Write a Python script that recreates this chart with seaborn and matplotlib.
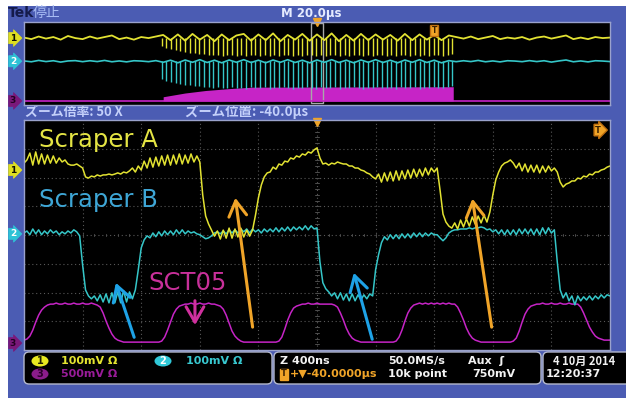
import numpy as np
import pandas as pd
import matplotlib
matplotlib.use("Agg")
import matplotlib.pyplot as plt
from matplotlib.patches import Rectangle, FancyBboxPatch, Ellipse
import seaborn as sns

# ---------------- zoom window (4 us wide), 50 MS/s -> one sample every 20 ns
SAMPLE_NS = 20
ch1_mv = [
    24, 35, 59, 17, 63, 21, 56, 21, 52, 24,
    49, 24, 42, 28, 35, 21, 17, 17, 21, 14,
    7, -24, -28, -21, -24, -17, -21, -17, -17, -14,
    -17, -14, -10, -14, -7, -10, -3, 7, -7, 14,
    0, 31, 7, 42, 10, 45, 14, 49, 17, 52,
    17, 52, 21, 56, 21, 52, 24, 56, 28, 49,
    28, -87, -160, -188, -209, -230, -212, -240, -209, -237,
    -202, -237, -205, -233, -202, -233, -209, -230, -209, -157,
    -97, -52, -24, -10, -7, 10, 3, 21, 17, 31,
    28, 42, 38, 49, 45, 56, 52, 63, 59, 70,
    77, 42, 21, 24, 17, 24, 21, 28, 24, 21,
    21, 14, 14, 7, 7, 0, -3, -10, -14, -24,
    -31, -14, -42, -10, -38, -7, -38, -3, -35, -3,
    -31, 0, -28, 3, -24, 3, -21, 7, -17, 7,
    -7, 7, -70, -153, -181, -195, -202, -184, -205, -174,
    -198, -170, -195, -163, -188, -160, -184, -157, -181, -146,
    -87, -35, -7, 14, 24, 28, 35, 24, 7, 24,
    -3, 21, -7, 17, -7, 17, -10, 14, -7, 14,
    -3, 7, -7, -42, -59, -49, -45, -38, -38, -28,
    -31, -21, -24, -14, -17, -7, -7, 0, 3, 10,
    14,
]
ch2_mv = [
    3, 10, -3, 17, 0, 14, -3, 10, 0, 14,
    3, 10, -3, 7, 0, 10, 3, 14, 7, -7,
    -108, -195, -216, -226, -216, -233, -212, -237, -209, -240,
    -205, -240, -202, -240, -198, -237, -202, -226, -195, -125,
    -49, -21, -7, -14, 3, -10, 7, -7, 10, -3,
    10, -3, 14, 0, 14, 0, 10, 3, 7, 0,
    -3, -10, -17, -14, -7, 3, 7, 0, 10, 0,
    14, 3, 14, 3, 17, 7, 17, 3, 17, 7,
    14, 3, 17, 7, 17, 7, 21, 7, 21, 10,
    24, 10, 24, 14, 24, 14, 28, 14, 28, 17,
    21, -97, -170, -191, -202, -216, -205, -226, -205, -230,
    -209, -233, -209, -233, -212, -230, -212, -226, -209, -216,
    -125, -73, -31, -10, -21, -3, -17, -3, -17, 0,
    -14, 0, -14, 3, -10, 3, -10, 3, -7, 3,
    -3, -3, -14, -24, -14, 3, 10, 14, 14, 17,
    17, 17, 21, 17, 21, 21, 24, 21, 14, 17,
    7, 14, 0, 14, -3, 14, -3, 14, -3, 17,
    0, 17, 0, 17, -3, 17, -3, 21, 0, 21,
    3, 14, -97, -195, -223, -205, -233, -216, -247, -216,
    -233, -219, -230, -216, -230, -216, -226, -212, -223, -212,
    -216,
]
ch3_mv = [
    52, 70, 122, 226, 365, 487, 574, 626, 661, 678,
    678, 696, 678, 678, 696, 678, 678, 696, 678, 678,
    696, 678, 678, 696, 678, 661, 626, 522, 383, 261,
    157, 87, 52, 35, 17, 17, 17, 17, 17, 17,
    17, 17, 17, 17, 17, 17, 17, 35, 104, 226,
    365, 504, 591, 643, 661, 678, 678, 696, 678, 678,
    696, 678, 678, 696, 678, 678, 661, 643, 591, 487,
    348, 209, 122, 70, 35, 17, 17, 17, 17, 17,
    17, 17, 17, 17, 17, 17, 17, 35, 104, 243,
    400, 522, 609, 643, 661, 678, 678, 696, 678, 678,
    696, 678, 678, 678, 678, 678, 661, 626, 522, 400,
    261, 157, 87, 52, 35, 17, 17, 17, 17, 17,
    17, 17, 17, 17, 17, 17, 17, 35, 104, 226,
    383, 522, 609, 661, 678, 696, 678, 696, 678, 696,
    678, 696, 678, 696, 678, 696, 678, 678, 626, 522,
    400, 261, 157, 87, 52, 35, 17, 17, 17, 17,
    17, 17, 17, 17, 17, 17, 17, 35, 87, 209,
    365, 504, 591, 643, 661, 678, 678, 696, 678, 678,
    696, 678, 678, 696, 678, 678, 696, 678, 678, 678,
    626, 522, 400, 278, 191, 122, 87, 70, 52, 52,
    52,
]

# vertical setup of the three channels
ch_labels = ["Scraper A", "Scraper B", "SCT05"]
ch_scale_mv = [100, 100, 500]
ch_offset_div = [6.26, 4.04, 0.24]
ch_colors = ["#e2e232", "#35c6c8", "#c624c6"]
label_colors = ["#e4e444", "#3ea6d6", "#c8309a"]

# ---------------- full record overview (-140 us .. +60 us)
OV_START_US = -140.0
OV_STEP_US = 2.5
ov_ch1_mv = [
    5, -10, 15, -5, 10, -15, 20, 0, -10, 15,
    -5, 10, 25, -10, 5, -15, 10, 0, 15, 30,
    -20, 35, -25, 40, -15, 30, -30, 35, -20, 25,
    40, -25, 35, -20, 45, -30, 30, -15, 40, -25,
    35, -20, 45, -30, 30, -25, 40, -20, 35, -15,
    30, -25, 40, -20, 35, -15, 30, -20, 25, 10,
    -5, 15, -10, 5, 20, -10, 5, -5, 10, -15,
    5, 15, -5, 10, 25, -10, 5, -10, 10, 0, 5,
]
ov_ch2_mv = [
    3, -5, 8, -3, 5, -8, 3, 6, -4, 5,
    -3, 8, -5, 3, -6, 5, 2, -4, 6, -10,
    10, -15, 12, -10, 15, -12, 10, -15, 12, -10,
    15, -12, 10, -15, 12, -10, 15, -12, 10, -15,
    12, -10, 15, -12, 10, -15, 12, -10, 15, -12,
    10, -15, 12, -10, 15, -12, 10, -15, 6, -4,
    5, -3, 8, -5, 3, -6, 5, 2, -4, 6,
    -3, 5, -8, 3, 12, -5, 3, -6, 5, 2, -3,
]
burst_us = [
    -93.0, -91.4, -89.8, -88.2, -86.6, -85.0, -83.4, -81.8, -80.2, -78.6,
    -77.0, -75.4, -73.8, -72.2, -70.6, -69.0, -67.4, -65.8, -64.2, -62.6,
    -61.0, -59.4, -57.8, -56.2, -54.6, -53.0, -51.4, -49.8, -48.2, -46.6,
    -45.0, -43.4, -41.8, -40.2, -38.6, -37.0, -35.4, -33.8, -32.2, -30.6,
    -29.0, -27.4, -25.8, -24.2, -22.6, -21.0, -19.4, -17.8, -16.2, -14.6,
    -13.0, -11.4, -9.8, -8.2, -6.6, -5.0, -3.4, -1.8, -0.2, 1.4,
    3.0, 4.6, 6.2,
]
burst_ch1_mv = [
    -80, -95, -105, -115, -125, -135, -140, -145, -150, -155,
    -160, -165, -160, -170, -165, -160, -170, -165, -175, -160,
    -165, -170, -160, -175, -165, -170, -160, -165, -175, -165,
    -170, -160, -165, -175, -160, -170, -165, -160, -175, -165,
    -170, -160, -165, -175, -165, -170, -160, -165, -170, -165,
    -175, -160, -165, -170, -160, -175, -165, -170, -160, -165,
    -170, -160, -150,
]
burst_ch2_mv = [
    -170, -185, -195, -205, -215, -225, -230, -235, -240, -245,
    -250, -255, -250, -260, -255, -250, -260, -255, -265, -250,
    -255, -260, -250, -265, -255, -260, -250, -255, -265, -255,
    -260, -250, -255, -265, -250, -260, -255, -250, -265, -255,
    -260, -250, -255, -265, -255, -260, -250, -255, -260, -255,
    -265, -250, -255, -260, -250, -265, -255, -260, -250, -255,
    -260, -250, -240,
]
ov_ch3_env_us = [-92.5, -85.0, -78.0, -70.0, -62.0, 6.5]
ov_ch3_env_mv = [200, 380, 500, 590, 660, 680]
ZOOM_CENTER_US = -40.0
ZOOM_WIDTH_US = 4.0

# ---------------- styling
sns.set_theme(style="dark")
plt.rcParams["font.family"] = ["DejaVu Sans", "Noto Sans CJK JP"]
JP = ["Noto Sans CJK JP", "DejaVu Sans"]
BLUE = "#4b5cb3"
ORANGE = "#f0a428"

W, H = 626, 398
fig = plt.figure(figsize=(W / 100, H / 100), dpi=100)
fig.patch.set_facecolor("white")

# instrument frame drawn in pixel units
ui = fig.add_axes([0, 0, 1, 1], zorder=0)
ui.set_xlim(0, W)
ui.set_ylim(H, 0)
ui.axis("off")
ui.add_patch(Rectangle((8, 6), W - 8, H - 6, fc=BLUE, ec="none"))

ui.text(8, 13, "Tek", fontsize=10, fontweight="bold", color="#141a4a", va="center")
ui.text(33, 13, "停止", fontsize=10, color="#a8bcf4", va="center", family=JP)
ui.text(311, 13, "M 20.0μs", fontsize=8.5, fontweight="bold", color="#e6ebff",
        va="center", ha="center")
ui.text(25, 112, "ズーム倍率: 50 X", fontsize=9.3, fontweight="bold",
        color="#c4d0fa", va="center", family=JP)
ui.text(185, 112, "ズーム位置: -40.0μs", fontsize=9.6, fontweight="bold",
        color="#c4d0fa", va="center", family=JP)

# status readout boxes
for x0, w in [(24, 248), (274, 267), (543, 95)]:
    ui.add_patch(FancyBboxPatch((x0, 352), w, 32, boxstyle="round,pad=0,rounding_size=5",
                                fc="black", ec="#b4b8cc", lw=1.0))
for cx, cy, lab, fc, tc in [(40, 361, "1", "#e8e820", "#202000"),
                            (163, 361, "2", "#30c8d8", "white"),
                            (40, 374, "3", "#8a1c8a", "#2a002a")]:
    ui.add_patch(Ellipse((cx, cy), 17, 11, fc=fc, ec="none"))
    ui.text(cx, cy, lab, fontsize=7, fontweight="bold", color=tc, ha="center", va="center")
st = dict(fontsize=8, fontweight="bold", va="center")
ui.text(61, 361, "100mV Ω", color="#e4e430", **st)
ui.text(186, 361, "100mV Ω", color="#38c8d0", **st)
ui.text(61, 374, "500mV Ω", color="#9a1c9a", **st)
ui.text(280, 361, "Z 400ns", color="#f2f2f2", **st)
ui.text(388, 361, "50.0MS/s", color="#f2f2f2", **st)
ui.text(468, 361, "Aux  ʃ", color="#f2f2f2", **st)
ui.text(388, 374, "10k point", color="#f2f2f2", **st)
ui.text(472, 374, "750mV", color="#f2f2f2", **st)
ui.text(284, 374, "T", color="#3a2000", fontsize=6, fontweight="bold", ha="center", va="center",
        bbox=dict(boxstyle="square,pad=0.12", fc=ORANGE, ec=ORANGE))
ui.text(290, 374, "+▼-40.0000μs", color=ORANGE, **st)
ui.text(553, 361, "4 10月 2014", color="#f2f2f2", family=JP, fontsize=8,
        fontweight="bold", va="center")
ui.text(546, 374, "12:20:37", color="#f2f2f2", **st)


def panel(rect_px, xlim, ylim):
    x0, y0, x1, y1 = rect_px
    ax = fig.add_axes([x0 / W, 1 - y1 / H, (x1 - x0) / W, (y1 - y0) / H], zorder=2)
    ax.set_facecolor("black")
    ax.set_xlim(*xlim)
    ax.set_ylim(*ylim)
    ax.set_xticks([])
    ax.set_yticks([])
    ax.grid(False)
    for s in ax.spines.values():
        s.set_visible(True)
        s.set_color("#9aa2cc")
        s.set_linewidth(1.0)
    return ax


def badge(ax, off, lab, fc, tc):
    ax.annotate(lab, xy=(0, off), xycoords=("axes fraction", "data"), xytext=(-8, 0),
                textcoords="offset points", ha="center", va="center", fontsize=6.5,
                fontweight="bold", color=tc, annotation_clip=False,
                bbox=dict(boxstyle="rarrow,pad=0.12", fc=fc, ec=fc, lw=0.5))


badge_style = [("1", "#dede22", "#101000"), ("2", "#2ec2d6", "white"), ("3", "#7a187a", "#220022")]

# ---------------- overview panel
ax_ov = panel((24, 22, 610, 105), (-140, 60), (-0.15, 7.8))
ov_t = OV_START_US + OV_STEP_US * np.arange(len(ov_ch1_mv))
ax_ov.axhline(ch_offset_div[2], color=ch_colors[2], lw=1.2)
ax_ov.fill_between(ov_ch3_env_us, ch_offset_div[2],
                   ch_offset_div[2] + np.array(ov_ch3_env_mv) / ch_scale_mv[2],
                   color=ch_colors[2], lw=0)
ax_ov.vlines(burst_us, ch_offset_div[1], ch_offset_div[1] + np.array(burst_ch2_mv) / ch_scale_mv[1],
             color=ch_colors[1], lw=1.0)
sns.lineplot(x=ov_t, y=ch_offset_div[1] + np.array(ov_ch2_mv) / ch_scale_mv[1], ax=ax_ov,
             color=ch_colors[1], lw=1.2, estimator=None, sort=False)
ax_ov.vlines(burst_us, ch_offset_div[0], ch_offset_div[0] + np.array(burst_ch1_mv) / ch_scale_mv[0],
             color=ch_colors[0], lw=1.0)
sns.lineplot(x=ov_t, y=ch_offset_div[0] + np.array(ov_ch1_mv) / ch_scale_mv[0], ax=ax_ov,
             color=ch_colors[0], lw=1.3, estimator=None, sort=False)
ax_ov.add_patch(Rectangle((ZOOM_CENTER_US - ZOOM_WIDTH_US / 2, 0.05), ZOOM_WIDTH_US, 7.65,
                          fill=False, ec="#a8a8a8", lw=1.0))
ax_ov.plot([ZOOM_CENTER_US], [7.8], marker="v", color=ORANGE, ms=6, clip_on=False)
ax_ov.text(0, 7.0, "T", fontsize=5.5, fontweight="bold", color="#3a2000", ha="center",
           va="center", bbox=dict(boxstyle="square,pad=0.15", fc=ORANGE, ec="#c07010"))
ax_ov.set_xlabel("")
ax_ov.set_ylabel("")
for off, (lab, fc, tc) in zip(ch_offset_div, badge_style):
    badge(ax_ov, off, lab, fc, tc)

# ---------------- zoomed panel
ax = panel((24, 120, 610, 350), (0, 4000), (0, 8))
for x in range(400, 4000, 400):
    ax.axvline(x, color="#585858", lw=0.8, ls=(0, (1, 2.5)))
for y in range(1, 8):
    ax.axhline(y, color="#585858", lw=0.8, ls=(0, (1, 2.5)))
# minor graduation marks on the centre cross
for y in np.arange(0.2, 8, 0.2):
    ax.plot([1986, 2014], [y, y], color="#4e4e4e", lw=0.7)
for x in np.arange(80, 4000, 80):
    ax.plot([x, x], [3.95, 4.05], color="#4e4e4e", lw=0.7)

t = np.arange(len(ch1_mv)) * SAMPLE_NS
for mv, scale, off, col in list(zip([ch1_mv, ch2_mv, ch3_mv], ch_scale_mv,
                                      ch_offset_div, ch_colors))[::-1]:
    sns.lineplot(x=t, y=off + np.array(mv) / scale, ax=ax, color=col, lw=1.1,
                 estimator=None, sort=False)
ax.set_xlabel("")
ax.set_ylabel("")

ax.text(102, 7.30, ch_labels[0], fontsize=17.5, color=label_colors[0], va="center")
ax.text(102, 5.22, ch_labels[1], fontsize=17.5, color=label_colors[1], va="center")
ax.text(846, 2.33, ch_labels[2], fontsize=17.5, color=label_colors[2], va="center")

arrow_kw = dict(arrowstyle="->,head_length=0.55,head_width=0.32", lw=2.2, mutation_scale=20)
for head, tail, col in [((1440, 5.39), (1563, 0.70), ORANGE),
                        ((3058, 5.36), (3195, 0.70), ORANGE),
                        ((621, 2.43), (758, 0.35), "#1ea2e6"),
                        ((2246, 2.78), (2382, 0.28), "#1ea2e6"),
                        ((1167, 0.77), (1167, 1.81), "#d0309e")]:
    ax.annotate("", xy=head, xytext=tail, arrowprops=dict(color=col, **arrow_kw))

ax.plot([2000], [7.92], marker="v", color=ORANGE, ms=6, clip_on=False)
ax.text(3920, 7.65, "T", fontsize=6, fontweight="bold", color="#3a2000", ha="center",
        va="center", bbox=dict(boxstyle="rarrow,pad=0.15", fc=ORANGE, ec="#c07010"))
for off, (lab, fc, tc) in zip(ch_offset_div, badge_style):
    badge(ax, off, lab, fc, tc)

fig.savefig("out.png", dpi=100, facecolor=fig.get_facecolor())
